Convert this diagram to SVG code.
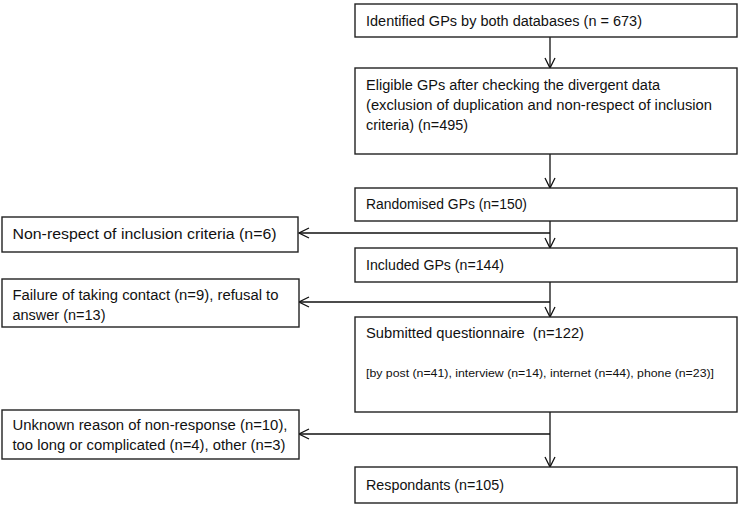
<svg xmlns="http://www.w3.org/2000/svg" width="739" height="511" viewBox="0 0 739 511">
<style>
.box{fill:#fff;stroke:#222;stroke-width:1.4}
.t{font-family:"Liberation Sans",Arial,sans-serif;font-size:14px;fill:#111}
.s{font-family:"Liberation Sans",Arial,sans-serif;font-size:11px;fill:#111}
.c{fill:none;stroke:#111;stroke-width:1.3}
</style>
<defs>
<marker id="ah" viewBox="0 0 12 12" refX="11" refY="6" markerWidth="12" markerHeight="12" markerUnits="userSpaceOnUse" orient="auto">
<path d="M1,1 L11,6 L1,11" fill="none" stroke="#111" stroke-width="1.3"/>
</marker>
</defs>
<rect width="739" height="511" fill="#fff"/>
<g id="connectors">
<line class="c" x1="550" y1="37" x2="550" y2="68" marker-end="url(#ah)"/>
<line class="c" x1="550" y1="154" x2="550" y2="188" marker-end="url(#ah)"/>
<line class="c" x1="550" y1="221" x2="550" y2="248" marker-end="url(#ah)"/>
<line class="c" x1="550" y1="233" x2="299" y2="233" marker-end="url(#ah)"/>
<line class="c" x1="550" y1="282" x2="550" y2="317" marker-end="url(#ah)"/>
<line class="c" x1="550" y1="302" x2="299" y2="302" marker-end="url(#ah)"/>
<line class="c" x1="550" y1="412" x2="550" y2="467" marker-end="url(#ah)"/>
<line class="c" x1="550" y1="434" x2="299" y2="434" marker-end="url(#ah)"/>
</g>
<g id="identified">
<rect class="box" x="355" y="4" width="382" height="33"/>
<text class="t" x="366" y="26" textLength="276" lengthAdjust="spacingAndGlyphs">Identified GPs by both databases (n = 673)</text>
</g>
<g id="eligible">
<rect class="box" x="355" y="68" width="382" height="86"/>
<text class="t" x="366" y="90" textLength="294" lengthAdjust="spacingAndGlyphs">Eligible GPs after checking the divergent data</text>
<text class="t" x="366" y="110" textLength="346" lengthAdjust="spacingAndGlyphs">(exclusion of duplication and non-respect of inclusion</text>
<text class="t" x="366" y="130" textLength="102" lengthAdjust="spacingAndGlyphs">criteria) (n=495)</text>
</g>
<g id="randomised">
<rect class="box" x="355" y="188" width="382" height="33"/>
<text class="t" x="366" y="209" textLength="161" lengthAdjust="spacingAndGlyphs">Randomised GPs (n=150)</text>
</g>
<g id="excl1">
<rect class="box" x="2" y="217" width="296" height="35"/>
<text class="t" x="12.5" y="239" textLength="264" lengthAdjust="spacingAndGlyphs">Non-respect of inclusion criteria (n=6)</text>
</g>
<g id="included">
<rect class="box" x="355" y="248" width="382" height="34"/>
<text class="t" x="366" y="270" textLength="138" lengthAdjust="spacingAndGlyphs">Included GPs (n=144)</text>
</g>
<g id="excl2">
<rect class="box" x="2" y="279" width="297" height="48"/>
<text class="t" x="12.5" y="300" textLength="266" lengthAdjust="spacingAndGlyphs">Failure of taking contact (n=9), refusal to</text>
<text class="t" x="12.5" y="320" textLength="93" lengthAdjust="spacingAndGlyphs">answer (n=13)</text>
</g>
<g id="submitted">
<rect class="box" x="355" y="317" width="382" height="95"/>
<text class="t" x="366" y="338" textLength="218" lengthAdjust="spacingAndGlyphs" xml:space="preserve">Submitted questionnaire  (n=122)</text>
<text class="s" x="366" y="377" textLength="348" lengthAdjust="spacingAndGlyphs">[by post (n=41), interview (n=14), internet (n=44), phone (n=23)]</text>
</g>
<g id="excl3">
<rect class="box" x="2" y="410" width="297" height="49"/>
<text class="t" x="12.5" y="430" textLength="275" lengthAdjust="spacingAndGlyphs">Unknown reason of non-response (n=10),</text>
<text class="t" x="12.5" y="450" textLength="273" lengthAdjust="spacingAndGlyphs">too long or complicated (n=4), other (n=3)</text>
</g>
<g id="respondants">
<rect class="box" x="355" y="467" width="382" height="36"/>
<text class="t" x="366" y="490" textLength="138" lengthAdjust="spacingAndGlyphs">Respondants (n=105)</text>
</g>
</svg>
